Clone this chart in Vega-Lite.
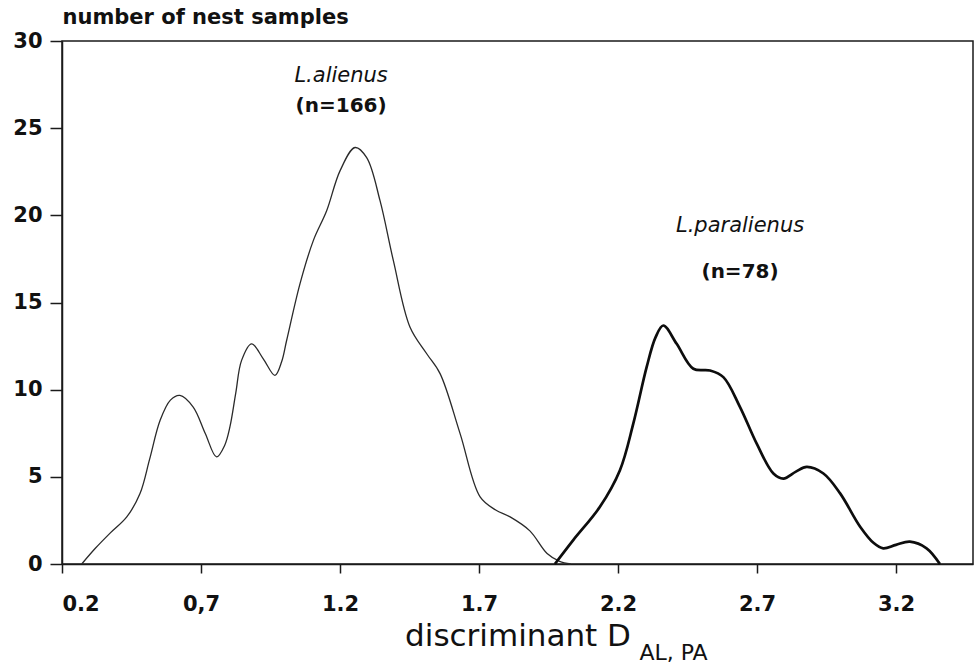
{
  "$schema": "https://vega.github.io/schema/vega-lite/v6.json",
  "width": 911,
  "height": 523,
  "autosize": "none",
  "padding": {"left": 62, "top": 41, "right": 5, "bottom": 102},
  "background": "white",
  "config": {
    "font": "DejaVu Sans",
    "view": {"stroke": "#1a1a1a", "strokeWidth": 1.5},
    "axis": {
      "grid": false,
      "domainColor": "#1a1a1a",
      "domainWidth": 1.5,
      "tickColor": "#1a1a1a",
      "tickWidth": 1.5,
      "labelColor": "#111",
      "titleColor": "#111",
      "labelFont": "DejaVu Sans",
      "titleFont": "DejaVu Sans",
      "titleFontWeight": "normal"
    }
  },
  "datasets": {
    "curves": [
      {"species": "L.alienus", "d": 0.271, "n": 0},
      {"species": "L.alienus", "d": 0.32, "n": 0.9},
      {"species": "L.alienus", "d": 0.373, "n": 1.77},
      {"species": "L.alienus", "d": 0.433, "n": 2.7},
      {"species": "L.alienus", "d": 0.481, "n": 4.06},
      {"species": "L.alienus", "d": 0.515, "n": 6.0},
      {"species": "L.alienus", "d": 0.553, "n": 8.24},
      {"species": "L.alienus", "d": 0.59, "n": 9.4},
      {"species": "L.alienus", "d": 0.624, "n": 9.67},
      {"species": "L.alienus", "d": 0.672, "n": 9.0},
      {"species": "L.alienus", "d": 0.715, "n": 7.5},
      {"species": "L.alienus", "d": 0.756, "n": 6.14},
      {"species": "L.alienus", "d": 0.785, "n": 6.8},
      {"species": "L.alienus", "d": 0.804, "n": 7.86},
      {"species": "L.alienus", "d": 0.825, "n": 9.8},
      {"species": "L.alienus", "d": 0.846, "n": 11.68},
      {"species": "L.alienus", "d": 0.882, "n": 12.63},
      {"species": "L.alienus", "d": 0.924, "n": 11.77},
      {"species": "L.alienus", "d": 0.966, "n": 10.82},
      {"species": "L.alienus", "d": 0.99, "n": 11.6},
      {"species": "L.alienus", "d": 1.008, "n": 12.82},
      {"species": "L.alienus", "d": 1.056, "n": 16.07},
      {"species": "L.alienus", "d": 1.104, "n": 18.55},
      {"species": "L.alienus", "d": 1.152, "n": 20.26},
      {"species": "L.alienus", "d": 1.2, "n": 22.55},
      {"species": "L.alienus", "d": 1.254, "n": 23.89},
      {"species": "L.alienus", "d": 1.296, "n": 23.31},
      {"species": "L.alienus", "d": 1.344, "n": 20.84},
      {"species": "L.alienus", "d": 1.392, "n": 17.4},
      {"species": "L.alienus", "d": 1.452, "n": 13.58},
      {"species": "L.alienus", "d": 1.512, "n": 12.06},
      {"species": "L.alienus", "d": 1.56, "n": 10.92},
      {"species": "L.alienus", "d": 1.632, "n": 7.48},
      {"species": "L.alienus", "d": 1.704, "n": 3.85},
      {"species": "L.alienus", "d": 1.76, "n": 3.1},
      {"species": "L.alienus", "d": 1.812, "n": 2.7},
      {"species": "L.alienus", "d": 1.883, "n": 1.9},
      {"species": "L.alienus", "d": 1.945, "n": 0.6},
      {"species": "L.alienus", "d": 1.99, "n": 0.15},
      {"species": "L.alienus", "d": 2.03, "n": 0},
      {"species": "L.paralienus", "d": 1.973, "n": 0},
      {"species": "L.paralienus", "d": 2.039, "n": 1.37},
      {"species": "L.paralienus", "d": 2.135, "n": 3.28},
      {"species": "L.paralienus", "d": 2.207, "n": 5.38},
      {"species": "L.paralienus", "d": 2.255, "n": 8.05},
      {"species": "L.paralienus", "d": 2.303, "n": 11.29},
      {"species": "L.paralienus", "d": 2.335, "n": 13.0},
      {"species": "L.paralienus", "d": 2.363, "n": 13.68},
      {"species": "L.paralienus", "d": 2.411, "n": 12.63},
      {"species": "L.paralienus", "d": 2.471, "n": 11.2},
      {"species": "L.paralienus", "d": 2.531, "n": 11.1},
      {"species": "L.paralienus", "d": 2.579, "n": 10.72},
      {"species": "L.paralienus", "d": 2.639, "n": 9.0},
      {"species": "L.paralienus", "d": 2.699, "n": 6.9},
      {"species": "L.paralienus", "d": 2.759, "n": 5.19},
      {"species": "L.paralienus", "d": 2.795, "n": 4.9},
      {"species": "L.paralienus", "d": 2.84, "n": 5.3},
      {"species": "L.paralienus", "d": 2.879, "n": 5.57},
      {"species": "L.paralienus", "d": 2.939, "n": 5.19},
      {"species": "L.paralienus", "d": 2.999, "n": 4.05},
      {"species": "L.paralienus", "d": 3.071, "n": 2.14},
      {"species": "L.paralienus", "d": 3.12, "n": 1.2},
      {"species": "L.paralienus", "d": 3.154, "n": 0.9},
      {"species": "L.paralienus", "d": 3.2, "n": 1.1},
      {"species": "L.paralienus", "d": 3.25, "n": 1.28},
      {"species": "L.paralienus", "d": 3.31, "n": 0.9},
      {"species": "L.paralienus", "d": 3.358, "n": 0}
    ],
    "names": [
      {"d": 1.204, "n": 27.65, "label": "L.alienus"},
      {"d": 2.639, "n": 19.05, "label": "L.paralienus"}
    ],
    "counts": [
      {"d": 1.204, "n": 25.9, "label": "(n=166)"},
      {"d": 2.639, "n": 16.4, "label": "(n=78)"}
    ],
    "subscript": [
      {"d": 2.277, "n": -5.51, "label": "AL, PA"}
    ]
  },
  "encoding": {
    "x": {
      "field": "d",
      "type": "quantitative",
      "scale": {"domain": [0.2, 3.477], "nice": false, "zero": false},
      "axis": {
        "values": [0.2, 0.7, 1.2, 1.7, 2.2, 2.7, 3.2],
        "labelExpr": "datum.value == 0.7 ? '0,7' : format(datum.value, '.1f')",
        "labelFontSize": 21,
        "labelFontWeight": "bold",
        "tickSize": 9,
        "labelPadding": 20,
        "title": "discriminant D",
        "titleFontSize": 31,
        "titleBaseline": "alphabetic",
        "titleY": 81
      }
    },
    "y": {
      "field": "n",
      "type": "quantitative",
      "scale": {"domain": [0, 30], "nice": false},
      "axis": {
        "values": [0, 5, 10, 15, 20, 25, 30],
        "labelFontSize": 21,
        "labelFontWeight": "bold",
        "tickSize": 12,
        "labelPadding": 8,
        "title": "number of nest samples",
        "titleFontSize": 21,
        "titleFontWeight": "bold",
        "titleAngle": 0,
        "titleAlign": "left",
        "titleBaseline": "alphabetic",
        "titleX": 0,
        "titleY": -18
      }
    }
  },
  "layer": [
    {
      "data": {"name": "curves"},
      "mark": {"type": "line", "interpolate": "catmull-rom"},
      "encoding": {
        "detail": {"field": "species", "type": "nominal"},
        "color": {
          "field": "species",
          "type": "nominal",
          "scale": {"domain": ["L.alienus", "L.paralienus"], "range": ["#2a2a2a", "#0d0d0d"]},
          "legend": null
        },
        "strokeWidth": {
          "field": "species",
          "type": "nominal",
          "scale": {"domain": ["L.alienus", "L.paralienus"], "range": [1.3, 2.7]},
          "legend": null
        }
      }
    },
    {
      "data": {"name": "names"},
      "mark": {"type": "text", "fontStyle": "italic", "fontSize": 21, "align": "center", "baseline": "alphabetic", "color": "#111"},
      "encoding": {"text": {"field": "label"}}
    },
    {
      "data": {"name": "counts"},
      "mark": {"type": "text", "fontSize": 20, "fontWeight": "bold", "align": "center", "baseline": "alphabetic", "color": "#111"},
      "encoding": {"text": {"field": "label"}}
    },
    {
      "data": {"name": "subscript"},
      "mark": {"type": "text", "fontSize": 22, "align": "left", "baseline": "alphabetic", "color": "#111"},
      "encoding": {"text": {"field": "label"}}
    }
  ]
}
